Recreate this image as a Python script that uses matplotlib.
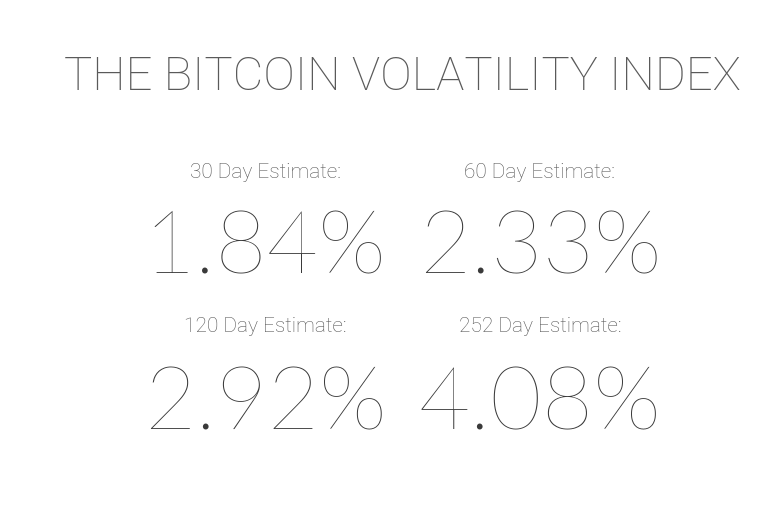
import matplotlib.pyplot as plt

# values shown on the page
title = 'THE BITCOIN VOLATILITY INDEX'
labels = ['30 Day Estimate:', '60 Day Estimate:', '120 Day Estimate:', '252 Day Estimate:']
values = [1.84, 2.33, 2.92, 4.08]

fig = plt.figure(figsize=(7.84, 5.13), dpi=100)
fig.patch.set_facecolor('white')

W, H = 784, 513
def fx(x):
    return x / W
def fy(y):
    return 1 - y / H

thin = 'Lato'
small = 'Roboto'

fig.text(fx(402), fy(77), title, ha='center', va='center', fontsize=34,
         family=small, fontweight='light', color='#5a5a5a')

centers = [(265, 172, 250), (540, 172, 250), (265, 326, 406), (540, 326, 406)]
for (cx, ly, vy), lab, v in zip(centers, labels, values):
    fig.text(fx(cx), fy(ly), lab, ha='center', va='center', fontsize=15,
             family=small, fontweight='light', color='#555555')
    fig.text(fx(cx), fy(vy), '%.2f%%' % v, ha='center', va='center', fontsize=64,
             family=thin, fontweight='light', color='#3a3a3a')

fig.savefig('out.png', dpi=100, facecolor='white')
